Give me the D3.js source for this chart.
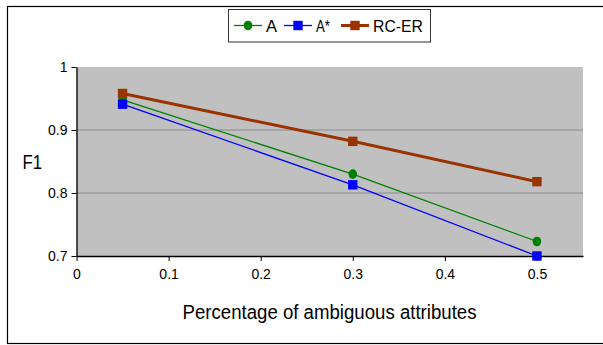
<!DOCTYPE html>
<html><head><meta charset="utf-8">
<script src="https://cdn.jsdelivr.net/npm/d3@7"></script>
<style>body{margin:0;background:#fff}svg{display:block;font-family:"Liberation Sans",Arial,sans-serif}</style>
</head><body><svg id="c" width="603" height="345"></svg>
<script>
const xValues = [0.05, 0.3, 0.5];
const seriesNames = ["A", "A*", "RC-ER"];
const valuesA = [0.948, 0.830, 0.723];
const valuesAStar = [0.941, 0.813, 0.700];
const valuesRCER = [0.958, 0.882, 0.818];
const xTicks = [0, 0.1, 0.2, 0.3, 0.4, 0.5];
const yTicks = [0.7, 0.8, 0.9, 1];
const colors = ["#008000", "#0000ff", "#993300"];
const shapes = ["circle", "square", "square"];
const widths = [1.3, 1.3, 3];

const series = seriesNames.map((n, i) => ({name: n, values: [valuesA, valuesAStar, valuesRCER][i], color: colors[i], shape: shapes[i], w: widths[i]}));

const svg = d3.select("#c");
svg.append("rect").attr("x", 7.5).attr("y", 6.5).attr("width", 610).attr("height", 337).attr("fill", "#fff").attr("stroke", "#000").attr("stroke-width", 1.2);

const x = d3.scaleLinear().domain([0, 0.55]).range([76.5, 583]);
const y = d3.scaleLinear().domain([0.7, 1]).range([256, 67]);

svg.append("rect").attr("x", x(0)).attr("y", y(1)).attr("width", x(0.55) - x(0)).attr("height", y(0.7) - y(1)).attr("fill", "#c0c0c0");

svg.append("g").selectAll("line").data(yTicks.filter(d => d > 0.7 && d < 1)).join("line")
  .attr("x1", x(0)).attr("x2", x(0.55)).attr("y1", d => y(d)).attr("y2", d => y(d))
  .attr("stroke", "#8a8a8a").attr("stroke-width", 1.2);

const tf = '"Liberation Sans",Arial,sans-serif';
const yAxis = svg.append("g").attr("transform", `translate(${x(0)},0)`)
  .call(d3.axisLeft(y).tickValues(yTicks).tickFormat(d => d === 1 ? "1" : d3.format(".1f")(d)).tickSize(5).tickSizeOuter(0));
yAxis.attr("font-size", 14).attr("font-family", tf);
yAxis.select(".domain").attr("stroke", "#000").attr("stroke-width", 1.3);
yAxis.selectAll("text").attr("fill", "#000").attr("x", -9).attr("dy", "0.35em");

const xAxis = svg.append("g").attr("transform", `translate(0,${y(0.7)})`)
  .call(d3.axisBottom(x).tickValues(xTicks).tickFormat(d => d === 0 ? "0" : d3.format(".1f")(d)).tickSize(5).tickSizeOuter(0));
xAxis.attr("font-size", 14).attr("font-family", tf);
xAxis.select(".domain").attr("stroke", "#000").attr("stroke-width", 1.3);
xAxis.selectAll("text").attr("fill", "#000").attr("y", 18).attr("dy", "0.35em");

const line = d3.line().x((d, i) => x(xValues[i])).y(d => y(d));
function marker(g, s, cx, cy) {
  if (s.shape === "circle") {
    g.append("ellipse").attr("cx", cx).attr("cy", cy).attr("rx", 4.3).attr("ry", 4.8).attr("fill", s.color);
  } else {
    g.append("rect").attr("x", cx - 4.7).attr("y", cy - 4.7).attr("width", 9.4).attr("height", 9.4).attr("fill", s.color);
  }
}
series.forEach(s => {
  const g = svg.append("g");
  g.append("path").datum(s.values).attr("d", line).attr("fill", "none").attr("stroke", s.color).attr("stroke-width", s.w);
  s.values.forEach((v, i) => marker(g, s, x(xValues[i]), y(v)));
});

// axis titles
svg.append("text").attr("x", 329.5).attr("y", 312).attr("dy", "0.35em").attr("text-anchor", "middle")
  .attr("font-size", 20).attr("textLength", 294).attr("lengthAdjust", "spacingAndGlyphs").text("Percentage of ambiguous attributes");
svg.append("text").attr("x", 22.5).attr("y", 162).attr("dy", "0.35em")
  .attr("font-size", 21).attr("textLength", 19.5).attr("lengthAdjust", "spacingAndGlyphs").text("F1");

// legend
const lg = svg.append("g");
lg.append("rect").attr("x", 228.5).attr("y", 9.5).attr("width", 202).attr("height", 32.5).attr("fill", "#fff").attr("stroke", "#333").attr("stroke-width", 1);
const lx = [234, 284, 341];
const tw = [11, 14, 50];
series.forEach((s, i) => {
  const cy = 25.5;
  lg.append("line").attr("x1", lx[i]).attr("x2", lx[i] + 28).attr("y1", cy).attr("y2", cy).attr("stroke", s.color).attr("stroke-width", s.w);
  marker(lg, s, lx[i] + 14, cy);
  lg.append("text").attr("x", lx[i] + 32).attr("y", cy).attr("dy", "0.36em").attr("font-size", 17)
    .attr("textLength", tw[i]).attr("lengthAdjust", "spacingAndGlyphs").text(s.name);
});
</script></body></html>
